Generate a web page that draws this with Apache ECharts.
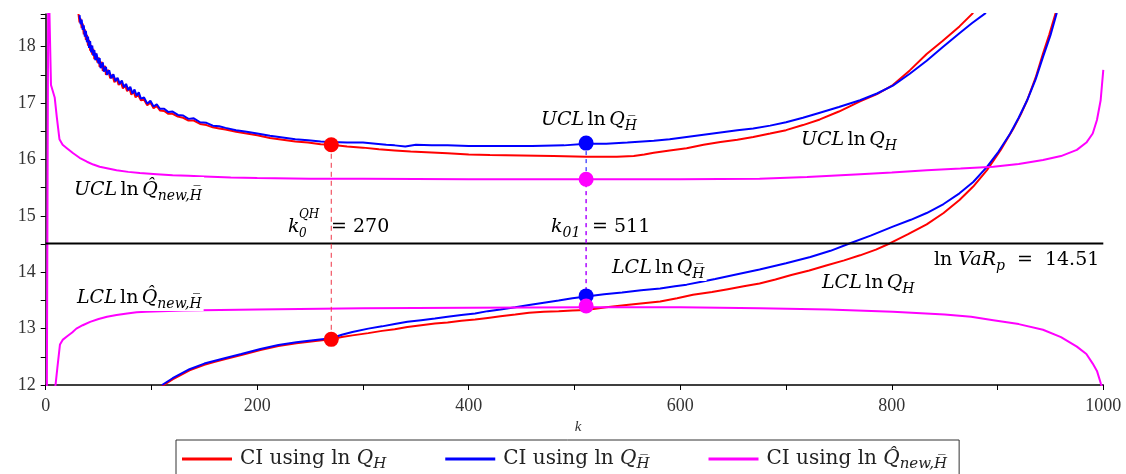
<!DOCTYPE html>
<html><head><meta charset="utf-8">
<script src="https://cdn.jsdelivr.net/npm/echarts@6/dist/echarts.min.js"></script>
<style>html,body{margin:0;padding:0;background:#fff}#c{width:1126px;height:474px}</style>
</head><body><div id="c"></div>
<script>
// ---------- data (k, value) ----------
const blueUCL = [[32,18.56],[33,18.40],[34,18.48],[35,18.30],[36,18.38],[37,18.18],[38,18.28],[39,18.08],[40,18.18],[41,17.98],[42,18.10],[43,17.90],[44,18.02],[45,17.84],[46,17.94],[47,17.76],[48,17.88],[50,17.70],[51,17.80],[52,17.62],[54,17.72],[55,17.56],[57,17.64],[58,17.50],[60,17.58],[62,17.44],[64,17.51],[66,17.39],[68,17.45],[70,17.34],[72,17.40],[74,17.28],[76,17.34],[78,17.23],[80,17.29],[82,17.17],[84,17.24],[86,17.13],[88,17.19],[90,17.08],[93,17.10],[96,16.99],[99,17.04],[102,16.94],[105,16.98],[108,16.90],[112,16.90],[116,16.84],[120,16.85],[125,16.79],[130,16.78],[135,16.72],[140,16.73],[146,16.66],[152,16.65],[158,16.60],[164,16.59],[170,16.56],[180,16.52],[190,16.49],[200,16.46],[212,16.42],[224,16.39],[236,16.36],[248,16.34],[260,16.32],[270,16.31],[285,16.30],[300,16.30],[312,16.28],[322,16.26],[330,16.25],[340,16.23],[350,16.26],[365,16.25],[380,16.25],[400,16.24],[430,16.24],[460,16.24],[490,16.25],[511,16.28],[530,16.28],[550,16.30],[575,16.33],[590,16.36],[606,16.40],[622,16.44],[638,16.48],[654,16.52],[669,16.55],[685,16.60],[700,16.66],[716,16.74],[732,16.83],[750,16.93],[770,17.05],[786,17.17],[801,17.31],[817,17.52],[833,17.75],[848,17.99],[864,18.24],[876,18.42],[889,18.6]];
const redUCL = [[31,18.58],[32,18.43],[33,18.50],[34,18.33],[35,18.41],[36,18.22],[37,18.31],[38,18.12],[39,18.21],[40,18.02],[41,18.12],[42,17.93],[43,18.03],[44,17.86],[45,17.96],[46,17.78],[47,17.89],[49,17.72],[50,17.81],[51,17.64],[53,17.73],[54,17.57],[56,17.66],[57,17.50],[59,17.59],[61,17.44],[63,17.50],[65,17.37],[67,17.44],[69,17.32],[71,17.38],[73,17.26],[75,17.32],[77,17.21],[79,17.27],[81,17.15],[83,17.21],[85,17.10],[87,17.16],[90,17.05],[93,17.06],[96,16.96],[99,17.01],[102,16.91],[105,16.95],[108,16.87],[112,16.86],[116,16.81],[120,16.81],[125,16.76],[130,16.74],[135,16.69],[140,16.69],[146,16.63],[152,16.61],[158,16.57],[164,16.55],[170,16.53],[180,16.49],[190,16.46],[200,16.43],[212,16.38],[224,16.35],[236,16.32],[248,16.30],[260,16.27],[270,16.26],[285,16.23],[300,16.21],[315,16.18],[330,16.16],[345,16.14],[360,16.13],[380,16.11],[400,16.09],[420,16.08],[450,16.07],[480,16.06],[511,16.05],[540,16.05],[556,16.06],[566,16.09],[575,16.12],[590,16.16],[606,16.20],[622,16.26],[638,16.31],[654,16.35],[669,16.40],[685,16.46],[700,16.52],[716,16.61],[732,16.71],[750,16.85],[770,17.03],[786,17.16],[801,17.32],[817,17.58],[833,17.87],[848,18.10],[864,18.36],[877,18.6]];
const blueLCL = [[110,12.0],[120,12.12],[128,12.20],[136,12.28],[150,12.38],[160,12.43],[170,12.48],[185,12.55],[203,12.64],[220,12.71],[237,12.76],[255,12.80],[270,12.83],[280,12.89],[290,12.94],[305,13.00],[318,13.04],[330,13.08],[342,13.12],[355,13.15],[368,13.18],[380,13.21],[393,13.24],[406,13.27],[418,13.31],[430,13.34],[444,13.38],[457,13.42],[471,13.46],[485,13.50],[498,13.54],[511,13.57],[528,13.61],[545,13.64],[563,13.68],[581,13.71],[595,13.75],[606,13.78],[620,13.83],[633,13.88],[655,13.97],[675,14.05],[700,14.16],[723,14.27],[742,14.38],[760,14.51],[780,14.65],[801,14.81],[818,14.93],[833,15.05],[849,15.21],[864,15.40],[877,15.60],[890,15.87],[901,16.14],[912,16.46],[920,16.74],[928,17.05],[936,17.42],[943,17.82],[950,18.20],[956,18.6]];
const redLCL = [[110,11.98],[120,12.10],[128,12.18],[136,12.26],[150,12.36],[160,12.41],[170,12.46],[185,12.53],[203,12.62],[220,12.69],[237,12.74],[255,12.78],[270,12.81],[280,12.85],[290,12.88],[305,12.92],[318,12.96],[330,12.99],[342,13.03],[355,13.06],[368,13.09],[380,13.11],[393,13.14],[406,13.16],[418,13.19],[430,13.22],[444,13.25],[457,13.28],[471,13.30],[485,13.31],[498,13.32],[511,13.33],[530,13.38],[549,13.42],[565,13.45],[581,13.48],[597,13.54],[612,13.60],[630,13.65],[645,13.70],[660,13.75],[675,13.80],[690,13.87],[705,13.95],[722,14.03],[738,14.12],[755,14.21],[770,14.30],[785,14.40],[798,14.51],[815,14.67],[833,14.85],[849,15.05],[864,15.28],[877,15.52],[890,15.81],[903,16.17],[915,16.55],[922,16.80],[928,17.05],[936,17.45],[943,17.88],[949,18.22],[955,18.6]];
const magUCL = [[1,11.5],[2.5,19.5],[5,17.32],[8.5,17.1],[10.5,16.75],[13,16.36],[16,16.26],[20,16.20],[26,16.11],[32,16.03],[39,15.96],[45,15.91],[51,15.87],[59,15.84],[67,15.81],[78,15.78],[89,15.76],[105,15.74],[120,15.72],[135,15.71],[150,15.70],[175,15.68],[200,15.67],[250,15.66],[300,15.66],[400,15.65],[511,15.65],[600,15.65],[675,15.66],[720,15.69],[770,15.74],[800,15.77],[833,15.81],[865,15.84],[896,15.87],[920,15.92],[943,15.99],[960,16.06],[975,16.17],[984,16.30],[990,16.46],[994,16.70],[997.5,17.05],[1000,17.59]];
const magLCL = [[9,11.95],[11,12.30],[13.5,12.72],[16,12.80],[20,12.86],[25,12.93],[29,13.00],[35,13.06],[42,13.12],[50,13.17],[58,13.21],[67,13.24],[77,13.27],[86,13.29],[95,13.30],[130,13.32],[200,13.34],[300,13.36],[400,13.37],[511,13.38],[600,13.38],[675,13.36],[740,13.34],[801,13.30],[850,13.25],[875,13.21],[896,13.15],[920,13.08],[943,12.98],[960,12.85],[975,12.68],[984,12.55],[990,12.38],[994,12.25],[997.6,12.03],[1000,11.9]];
const varLine = [[0,14.51],[1000,14.51]];
const redDots = [[270,16.26],[270,12.81]];
const blueDots = [[511,16.29],[511,13.58]];
const magDots = [[511,15.65],[511,13.40]];
const seriesNames = ['QH','QHbar','Qnew'];

// ---------- styles ----------
const SERIF = '"DejaVu Serif","Liberation Serif",serif';
const TICKFONT = '"Liberation Serif",serif';
const RED = '#ff0000', BLUE = '#0000ff', MAG = '#ff00ff';
const HBAR = 'H\u0305';
const QHAT = 'Q\u0302';
const INK = '#222';
const richBase = {
  i: {fontFamily: SERIF, fontStyle: 'italic', fontSize: 19, lineHeight: 26, color: INK},
  n: {fontFamily: SERIF, fontSize: 19, lineHeight: 26, color: INK},
  s: {fontFamily: SERIF, fontStyle: 'italic', fontSize: 14, lineHeight: 16, verticalAlign: 'bottom', color: INK},
  p: {fontFamily: SERIF, fontStyle: 'italic', fontSize: 12, lineHeight: 14, verticalAlign: 'top', color: INK},
  g: {width: 6}
};
const richLegend = {
  i: {fontFamily: SERIF, fontStyle: 'italic', fontSize: 20, lineHeight: 26, color: INK},
  n: {fontFamily: SERIF, fontSize: 20, lineHeight: 26, color: INK},
  s: {fontFamily: SERIF, fontStyle: 'italic', fontSize: 15, lineHeight: 16, verticalAlign: 'bottom', color: INK}
};
function label(x, y, text, bg) {
  return {type: 'text', x: x, y: y, z: 50,
    style: {text: text, rich: richBase, align: 'left', verticalAlign: 'middle',
      backgroundColor: bg ? '#fff' : null, padding: bg ? [0, 2, 0, 2] : 0}};
}

const chart = echarts.init(document.getElementById('c'), null, {renderer: 'canvas'});
function lineS(name, data, color, z) {
  return {type: 'line', name: name, data: data, showSymbol: false, symbol: 'none', z: z,
    lineStyle: {color: color, width: 2}, itemStyle: {color: color}, animation: false};
}
const option = {
  animation: false,
  backgroundColor: '#fff',
  grid: {left: 45.7, right: 22.7, top: 14, bottom: 89},
  xAxis: {type: 'value', min: 0, max: 1000, interval: 200,
    name: 'k', nameLocation: 'middle', nameGap: 31,
    nameTextStyle: {fontFamily: TICKFONT, fontStyle: 'italic', fontSize: 15, color: '#333', padding: [0, 0, 0, 7]},
    axisLine: {lineStyle: {color: '#000', width: 1.5}},
    axisTick: {length: 5, lineStyle: {color: '#000'}},
    minorTick: {show: true, splitNumber: 2, length: 5, lineStyle: {color: '#000'}},
    splitLine: {show: false},
    axisLabel: {fontFamily: TICKFONT, fontSize: 18, color: '#333', margin: 12, formatter: v => String(v)}},
  yAxis: {type: 'value', min: 12, max: 18.58, interval: 1,
    axisLine: {show: true, lineStyle: {color: '#000', width: 1.5}},
    axisTick: {show: true, length: 5, lineStyle: {color: '#000'}},
    minorTick: {show: true, splitNumber: 2, length: 5, lineStyle: {color: '#000'}},
    splitLine: {show: false},
    axisLabel: {fontFamily: TICKFONT, fontSize: 18, color: '#333', margin: 10, showMaxLabel: false,
      formatter: v => (Math.abs(v - Math.round(v)) < 1e-6 ? String(Math.round(v)) : '')}},
  legend: {data: seriesNames, left: 176, top: 440, orient: 'horizontal',
    icon: 'rect', itemWidth: 50, itemHeight: 3, itemGap: 59,
    borderColor: '#333', borderWidth: 1, padding: [9, 12, 20, 6],
    formatter: function (n) {
      if (n === 'QH') return '{n|CI using ln }{i|Q}{s|H}';
      if (n === 'QHbar') return '{n|CI using ln }{i|Q}{s|' + HBAR + '}';
      return '{n|CI using ln }{i|' + QHAT + '}{s|new,' + HBAR + '}';
    },
    textStyle: {rich: richLegend, padding: [0, 0, 0, 3]}},
  series: [
    lineS('QH', redUCL, RED, 2),
    lineS('QH', redLCL, RED, 2),
    lineS('QHbar', blueUCL, BLUE, 3),
    lineS('QHbar', blueLCL, BLUE, 3),
    lineS('Qnew', magUCL, MAG, 4),
    lineS('Qnew', magLCL, MAG, 4),
    {type: 'line', data: varLine, showSymbol: false, symbol: 'none', z: 5,
      lineStyle: {color: '#000', width: 2}},
    {type: 'line', data: [redDots[0], redDots[1]], showSymbol: false, symbol: 'none', z: 6,
      lineStyle: {color: '#ee3344', width: 1, type: [5, 4]}},
    {type: 'line', data: [blueDots[0], blueDots[1]], showSymbol: false, symbol: 'none', z: 6,
      lineStyle: {color: BLUE, width: 1, type: [4, 4]}},
    {type: 'line', data: [magDots[0], magDots[1]], showSymbol: false, symbol: 'none', z: 7,
      lineStyle: {color: MAG, width: 1, type: [4, 4], dashOffset: 4}},
    {type: 'scatter', data: redDots, symbolSize: 15, z: 8, itemStyle: {color: RED, opacity: 1}},
    {type: 'scatter', data: blueDots, symbolSize: 15, z: 8, itemStyle: {color: BLUE, opacity: 1}},
    {type: 'scatter', data: magDots, symbolSize: 15, z: 8, itemStyle: {color: MAG, opacity: 1}}
  ],
  graphic: [
    label(72, 190, '{i|UCL} {n|ln} {i|' + QHAT + '}{s|new,' + HBAR + '}', true),
    label(75, 298, '{i|LCL} {n|ln} {i|' + QHAT + '}{s|new,' + HBAR + '}', true),
    label(541, 120, '{i|UCL} {n|ln} {i|Q}{s|' + HBAR + '}', false),
    label(801, 140, '{i|UCL} {n|ln} {i|Q}{s|H}', false),
    label(610, 268, '{i|LCL} {n|ln} {i|Q}{s|' + HBAR + '}', true),
    label(822, 283, '{i|LCL} {n|ln} {i|Q}{s|H}', false),
    label(934, 260, '{n|ln }{i|VaR}{s|p}{g|}{n| = }{g|}{n|14.51}', false),
    label(288, 227, '{i|k}', false),
    label(299, 216, '{p|QH}', false),
    label(299, 235, '{p|0}', false),
    label(331, 227, '{n|= 270}', false),
    label(551, 227, '{i|k}{s|01}', false),
    label(592, 227, '{n|= 511}', false)
  ]
};
chart.setOption(option);
</script></body></html>
